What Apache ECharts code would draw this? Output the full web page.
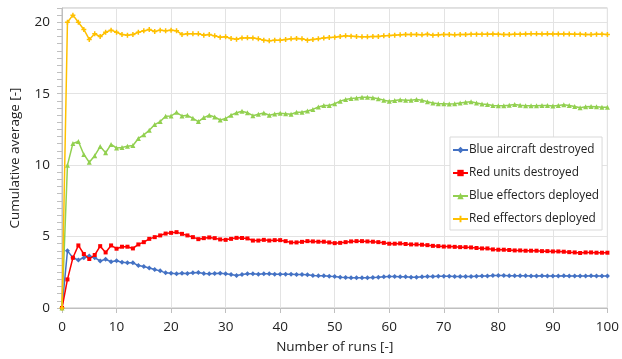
<!DOCTYPE html>
<html>
<head>
<meta charset="utf-8">
<script src="https://cdn.jsdelivr.net/npm/echarts@6/dist/echarts.min.js"></script>
<style>html,body{margin:0;padding:0;background:#fff}#c{width:622px;height:359px}</style>
</head>
<body>
<div id="c"></div>
<script>
const seriesNames = ['Blue aircraft destroyed', 'Red units destroyed', 'Blue effectors deployed', 'Red effectors deployed'];
const xTicks = [0, 10, 20, 30, 40, 50, 60, 70, 80, 90, 100];
const yTicks = [0, 5, 10, 15, 20];

const blueAircraftDestroyed = [0, 4.0, 3.52, 3.36, 3.52, 3.64, 3.52, 3.29, 3.41, 3.24,
  3.31, 3.2, 3.17, 3.17, 2.97, 2.9, 2.8, 2.69, 2.6, 2.46,
  2.43, 2.39, 2.43, 2.41, 2.46, 2.48, 2.41, 2.39, 2.41, 2.43,
  2.39, 2.34, 2.27, 2.34, 2.39, 2.39, 2.36, 2.39, 2.39, 2.36,
  2.36, 2.36, 2.36, 2.34, 2.34, 2.32, 2.27, 2.25, 2.25, 2.22,
  2.2, 2.15, 2.13, 2.11, 2.11, 2.11, 2.11, 2.13, 2.15, 2.18,
  2.2, 2.2, 2.18, 2.18, 2.15, 2.15, 2.18, 2.2, 2.2, 2.22,
  2.22, 2.22, 2.2, 2.2, 2.2, 2.2, 2.22, 2.24, 2.24, 2.27,
  2.27, 2.27, 2.25, 2.25, 2.25, 2.25, 2.24, 2.24, 2.25, 2.24,
  2.24, 2.24, 2.25, 2.24, 2.24, 2.24, 2.24, 2.25, 2.24, 2.24,
  2.24];

const redUnitsDestroyed = [0, 2.0, 3.52, 4.38, 3.78, 3.43, 3.71, 4.33, 3.89, 4.38,
  4.15, 4.29, 4.29, 4.17, 4.45, 4.61, 4.84, 4.96, 5.08, 5.21,
  5.26, 5.31, 5.19, 5.08, 4.96, 4.82, 4.89, 4.94, 4.89, 4.8,
  4.77, 4.84, 4.91, 4.9, 4.87, 4.72, 4.72, 4.77, 4.72, 4.75,
  4.75, 4.68, 4.59, 4.59, 4.63, 4.68, 4.66, 4.64, 4.64, 4.59,
  4.54, 4.56, 4.61, 4.66, 4.68, 4.68, 4.66, 4.64, 4.61, 4.56,
  4.5, 4.5, 4.52, 4.48, 4.45, 4.45, 4.43, 4.4, 4.35, 4.33,
  4.3, 4.3, 4.28, 4.26, 4.26, 4.24, 4.2, 4.17, 4.17, 4.1,
  4.08, 4.08, 4.06, 4.03, 4.03, 4.01, 4.01, 4.01, 3.98, 3.98,
  3.96, 3.96, 3.94, 3.91, 3.89, 3.85, 3.89, 3.89, 3.87, 3.87,
  3.87];

const blueEffectorsDeployed = [0, 10.0, 11.52, 11.66, 10.75, 10.2, 10.66, 11.3, 10.87, 11.45,
  11.2, 11.24, 11.33, 11.38, 11.87, 12.12, 12.44, 12.84, 13.05, 13.42,
  13.44, 13.7, 13.44, 13.49, 13.28, 13.05, 13.33, 13.49, 13.37, 13.16,
  13.26, 13.5, 13.67, 13.77, 13.67, 13.46, 13.56, 13.65, 13.49, 13.58,
  13.63, 13.6, 13.56, 13.7, 13.7, 13.79, 13.9, 14.07, 14.18, 14.18,
  14.3, 14.48, 14.6, 14.67, 14.7, 14.76, 14.76, 14.72, 14.65, 14.55,
  14.48, 14.52, 14.58, 14.55, 14.55, 14.6, 14.55, 14.44, 14.35, 14.3,
  14.3, 14.28, 14.3, 14.35, 14.41, 14.44, 14.35, 14.28, 14.25, 14.18,
  14.16, 14.16, 14.2, 14.25, 14.2, 14.16, 14.16, 14.16, 14.18, 14.18,
  14.14, 14.18, 14.22, 14.18, 14.1, 14.02, 14.08, 14.1, 14.08, 14.06,
  14.05];

const redEffectorsDeployed = [0, 20.0, 20.5, 20.0, 19.5, 18.8, 19.2, 19.0, 19.3, 19.45,
  19.3, 19.15, 19.1, 19.15, 19.3, 19.4, 19.5, 19.35, 19.45, 19.4,
  19.45, 19.4, 19.15, 19.2, 19.2, 19.2, 19.1, 19.15, 19.05, 18.95,
  18.98, 18.86, 18.82, 18.9, 18.92, 18.9, 18.85, 18.75, 18.7, 18.75,
  18.75, 18.8, 18.85, 18.87, 18.85, 18.75, 18.8, 18.85, 18.9, 18.93,
  18.95, 19.0, 19.05, 19.03, 19.0, 18.98, 18.98, 19.0, 19.0, 19.05,
  19.07, 19.1, 19.12, 19.15, 19.15, 19.15, 19.13, 19.17, 19.1, 19.13,
  19.14, 19.15, 19.12, 19.14, 19.14, 19.16, 19.16, 19.16, 19.16, 19.18,
  19.16, 19.14, 19.14, 19.16, 19.16, 19.18, 19.2, 19.2, 19.18, 19.2,
  19.18, 19.18, 19.18, 19.18, 19.16, 19.16, 19.14, 19.14, 19.16, 19.16,
  19.15];

const runs = blueAircraftDestroyed.map((_, i) => i);
const pair = arr => arr.map((v, i) => [runs[i], v]);

const FONT = '"Open Sans", "Noto Sans", sans-serif';
const plusPath = 'path://M3.5,0H6.5V3.5H10V6.5H6.5V10H3.5V6.5H0V3.5H3.5Z';

const colors = ['#4472C4', '#FF0000', '#92D050', '#FFC000'];
const symbols = ['diamond', 'rect', 'triangle', plusPath];
const sizes = [5, 4, 5, 5];
const dataSets = [blueAircraftDestroyed, redUnitsDestroyed, blueEffectorsDeployed, redEffectorsDeployed];

const chart = echarts.init(document.getElementById('c'), null, {renderer: 'canvas'});
chart.setOption({
  animation: false,
  backgroundColor: '#fff',
  textStyle: {fontFamily: FONT},
  grid: {left: 56, right: 10, top: 8, bottom: 49, show: true, borderColor: '#bfbfbf', borderWidth: 1},
  legend: {
    orient: 'vertical',
    left: 450, top: 137,
    backgroundColor: '#fff',
    borderColor: '#d9d9d9', borderWidth: 1,
    padding: [7, 3, 5, 2],
    itemWidth: 15, itemHeight: 8, itemGap: 11,
    textStyle: {fontFamily: FONT, fontSize: 11.8, color: '#222', padding: [0, 0, 0, -4]},
    data: seriesNames
  },
  xAxis: {
    type: 'value', min: xTicks[0], max: xTicks[xTicks.length - 1], interval: 10,
    name: 'Number of runs [-]', nameLocation: 'middle', nameGap: 32,
    nameTextStyle: {fontFamily: FONT, fontSize: 13.5, color: '#222'},
    axisLine: {lineStyle: {color: '#bfbfbf'}},
    axisTick: {show: true, length: 5, lineStyle: {color: '#bfbfbf'}},
    axisLabel: {fontFamily: FONT, fontSize: 13.5, color: '#222', margin: 12},
    splitLine: {show: true, lineStyle: {color: '#e3e3e3'}}
  },
  yAxis: {
    type: 'value', min: yTicks[0], max: 21, interval: 5,
    name: 'Cumulative average [-]', nameLocation: 'middle', nameGap: 40, nameRotate: 90,
    nameTextStyle: {fontFamily: FONT, fontSize: 13.5, color: '#222'},
    axisLine: {show: true, lineStyle: {color: '#bfbfbf'}},
    axisTick: {show: true, length: 5, lineStyle: {color: '#bfbfbf'}},
    minorTick: {show: true, splitNumber: 10, length: 5, lineStyle: {color: '#bfbfbf'}},
    axisLabel: {fontFamily: FONT, fontSize: 13.5, color: '#222', margin: 12, showMaxLabel: false},
    splitLine: {show: true, lineStyle: {color: '#e3e3e3'}}
  },
  series: seriesNames.map((n, i) => ({
    name: n, type: 'line', data: pair(dataSets[i]),
    symbol: symbols[i], symbolSize: sizes[i], showAllSymbol: true,
    lineStyle: {color: colors[i], width: 1.5},
    itemStyle: {color: colors[i]},
    z: 2 + i
  }))
});
</script>
</body>
</html>
